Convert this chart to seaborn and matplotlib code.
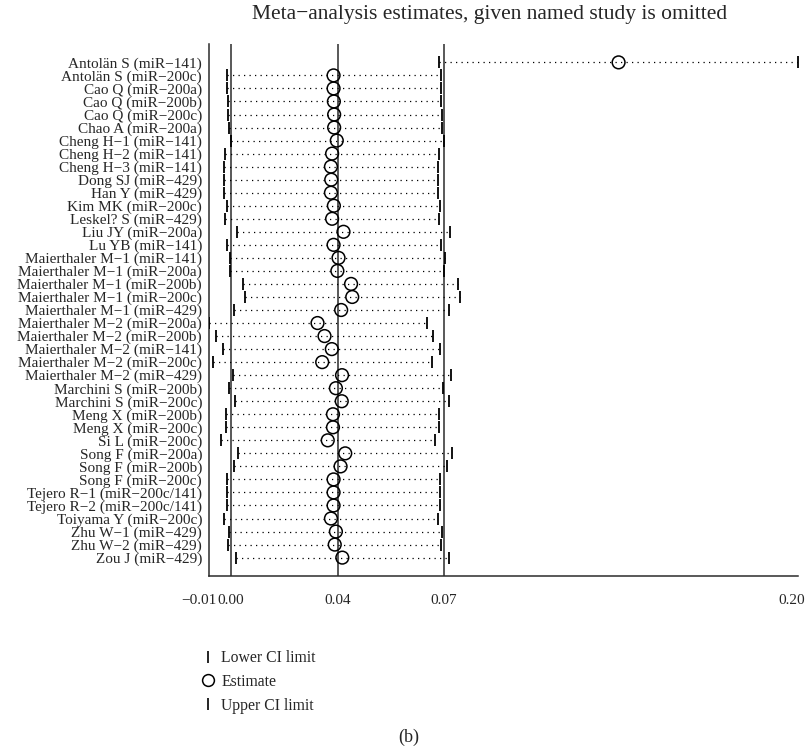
import numpy as np
import pandas as pd
import matplotlib
matplotlib.use("Agg")
import matplotlib.pyplot as plt
import matplotlib.transforms as mtransforms
import seaborn as sns
from matplotlib.lines import Line2D

# Leave-one-out meta-analysis: pooled estimate and 95% CI with each study omitted
studies = [
    "Antolän S (miR−141)", "Antolän S (miR−200c)", "Cao Q (miR−200a)", "Cao Q (miR−200b)",
    "Cao Q (miR−200c)", "Chao A (miR−200a)", "Cheng H−1 (miR−141)", "Cheng H−2 (miR−141)",
    "Cheng H−3 (miR−141)", "Dong SJ (miR−429)", "Han Y (miR−429)", "Kim MK (miR−200c)",
    "Leskel? S (miR−429)", "Liu JY (miR−200a)", "Lu YB (miR−141)",
    "Maierthaler M−1 (miR−141)", "Maierthaler M−1 (miR−200a)", "Maierthaler M−1 (miR−200b)",
    "Maierthaler M−1 (miR−200c)", "Maierthaler M−1 (miR−429)", "Maierthaler M−2 (miR−200a)",
    "Maierthaler M−2 (miR−200b)", "Maierthaler M−2 (miR−141)", "Maierthaler M−2 (miR−200c)",
    "Maierthaler M−2 (miR−429)", "Marchini S (miR−200b)", "Marchini S (miR−200c)",
    "Meng X (miR−200b)", "Meng X (miR−200c)", "Si L (miR−200c)", "Song F (miR−200a)",
    "Song F (miR−200b)", "Song F (miR−200c)", "Tejero R−1 (miR−200c/141)",
    "Tejero R−2 (miR−200c/141)", "Toiyama Y (miR−200c)", "Zhu W−1 (miR−429)",
    "Zhu W−2 (miR−429)", "Zou J (miR−429)",
]
lower = [
    0.0725, -0.0002, -0.0002, 0.0002, 0.0002, 0.0004, 0.0011, -0.0008,
    -0.0012, -0.0011, -0.0011, -0.0003, -0.0008, 0.0032, -0.0002,
    0.0009, 0.0008, 0.0054, 0.0058, 0.0020, -0.0064,
    -0.0039, -0.0016, -0.0051, 0.0018, 0.0006, 0.0025,
    -0.0005, -0.0005, -0.0023, 0.0035, 0.0020, -0.0003, -0.0003,
    -0.0003, -0.0012, 0.0006, 0.0001, 0.0027,
]
estimate = [
    0.1340, 0.0363, 0.0363, 0.0364, 0.0365, 0.0365, 0.0374, 0.0358,
    0.0354, 0.0355, 0.0354, 0.0364, 0.0358, 0.0397, 0.0363,
    0.0380, 0.0376, 0.0423, 0.0427, 0.0389, 0.0308,
    0.0332, 0.0357, 0.0324, 0.0392, 0.0371, 0.0391,
    0.0361, 0.0361, 0.0343, 0.0403, 0.0387, 0.0363, 0.0363,
    0.0363, 0.0354, 0.0371, 0.0367, 0.0393,
]
upper = [
    0.1955, 0.0731, 0.0732, 0.0732, 0.0735, 0.0734, 0.0741, 0.0726,
    0.0721, 0.0721, 0.0722, 0.0728, 0.0726, 0.0763, 0.0731,
    0.0745, 0.0743, 0.0791, 0.0795, 0.0757, 0.0683,
    0.0703, 0.0728, 0.0700, 0.0765, 0.0738, 0.0757,
    0.0726, 0.0726, 0.0711, 0.0769, 0.0753, 0.0728, 0.0728,
    0.0728, 0.0720, 0.0736, 0.0732, 0.0760,
]

# Pooled result using all studies
full_lower, full_est, full_upper = 0.0012, 0.0377, 0.0742
tick_labels = ["−0.01", "0.00", "0.04", "0.07", "0.20"]
legend_labels = ["Lower CI limit", "Estimate", "Upper CI limit"]

sns.set_theme(style="white")
plt.rcParams["font.family"] = ["Liberation Serif", "DejaVu Serif"]

df = pd.DataFrame({"study": studies, "lower": lower, "estimate": estimate, "upper": upper})
df["pos"] = np.arange(len(df))

W, H = 809, 750
fig = plt.figure(figsize=(W / 100, H / 100), dpi=100)
ax = fig.add_axes([209 / W, 1 - 576 / H, (798 - 209) / W, (576 - 44) / H])

for v in (full_lower, full_est, full_upper):
    ax.axvline(v, color="#2b2b2b", lw=1.1, zorder=1)

ax.hlines(df["pos"], df["lower"], df["upper"], colors="black",
          linestyles=(0, (1, 3.4)), lw=0.9, zorder=2)

sns.scatterplot(data=df, x="lower", y="pos", marker="|", s=85, color="black",
                linewidth=1.3, ax=ax, zorder=3, legend=False)
sns.scatterplot(data=df, x="upper", y="pos", marker="|", s=85, color="black",
                linewidth=1.3, ax=ax, zorder=3, legend=False)
sns.scatterplot(data=df, x="estimate", y="pos", marker="o", s=84, facecolor="none",
                edgecolor="black", linewidth=1.1, ax=ax, zorder=4, legend=False)

n = len(df)
ax.set_ylim(n - 1 + 1.41, -1.41)
ax.set_xlim(df["lower"].min(), df["upper"].max())
ax.set_yticks(df["pos"])
ax.set_yticklabels(df["study"], fontsize=11)
ax.set_xticks([df["lower"].min(), full_lower, full_est, full_upper, df["upper"].max()])
ax.set_xticklabels(tick_labels, fontsize=11)
ax.tick_params(axis="y", length=0, pad=5)
ax.tick_params(axis="x", direction="out", length=7, width=1.1, color="#2b2b2b", pad=6)
ax.set_xlabel("")
ax.set_ylabel("")
for side in ("top", "right"):
    ax.spines[side].set_visible(False)
for side in ("left", "bottom"):
    ax.spines[side].set_color("#2b2b2b")
    ax.spines[side].set_linewidth(1.1)

# keep the end labels inside the graph
xlabels = ax.get_xticklabels()
xlabels[0].set_transform(xlabels[0].get_transform()
                         + mtransforms.ScaledTranslation(-10 / 100, 0, fig.dpi_scale_trans))
xlabels[-1].set_transform(xlabels[-1].get_transform()
                          + mtransforms.ScaledTranslation(-6 / 100, 0, fig.dpi_scale_trans))

fig.text(490 / W, 1 - 15 / H, "Meta−analysis estimates, given named study is omitted",
         ha="center", va="center", fontsize=15.5)

handles = [
    Line2D([], [], marker="|", ls="none", color="black", markersize=9, mew=1.2),
    Line2D([], [], marker="o", ls="none", mfc="none", mec="black", markersize=8.5, mew=1.1),
    Line2D([], [], marker="|", ls="none", color="black", markersize=9, mew=1.2),
]
fig.legend(handles, legend_labels, loc="upper left", bbox_to_anchor=(200 / W, 1 - 650 / H),
           frameon=False, fontsize=11.3, handlelength=1.0, handletextpad=0.35,
           labelspacing=0.5, borderpad=0, borderaxespad=0)

fig.text(409 / W, 1 - 737 / H, "(b)", ha="center", va="center", fontsize=13)

fig.savefig("out.png", dpi=100)
